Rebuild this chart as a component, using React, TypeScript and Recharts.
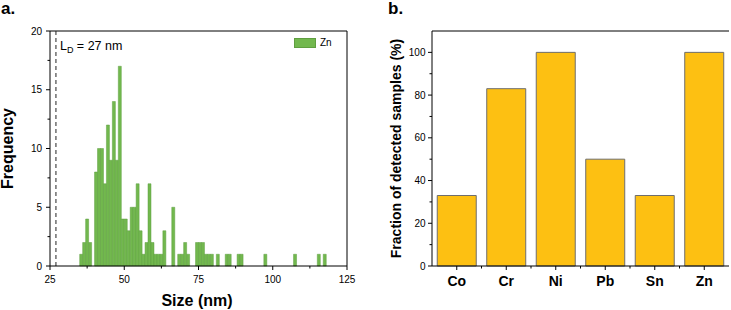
import React from 'react';
import { BarChart, Bar, XAxis, YAxis, ReferenceLine, Legend } from 'recharts';

// ---------- Panel a: size histogram (Zn) ----------
const sizeBinCenters = [
  35.5, 36.5, 37.5, 38.5, 40.5, 41.5, 42.5, 43.5, 44.5, 45.5, 46.5, 47.5, 48.5, 49.5, 50.5, 51.5,
  52.5, 53.5, 54.5, 55.5, 56.5, 57.5, 58.5, 59.5, 60.5, 61.5, 62.5, 63.5, 66.5, 68.5, 69.5, 70.5,
  71.5, 74.5, 75.5, 76.5, 77.5, 78.5, 79.5, 81.5, 84.5, 85.5, 88.5, 89.5, 97.5, 107.5, 115.5, 117.5,
];
const znFrequency = [
  1, 2, 4, 2, 8, 10, 10, 7, 12, 9, 14, 9, 17, 4, 4, 3,
  5, 5, 7, 3, 1, 2, 7, 2, 1, 1, 1, 3, 5, 1, 1, 2,
  1, 2, 2, 2, 1, 1, 1, 1, 1, 1, 1, 1, 1, 1, 1, 1,
];
const sizeTicks = [25, 37.5, 50, 62.5, 75, 87.5, 100, 112.5, 125];
const sizeMajorTicks = [25, 50, 75, 100, 125];
const freqTicks = [0, 2.5, 5, 7.5, 10, 12.5, 15, 17.5, 20];
const freqMajorTicks = [0, 5, 10, 15, 20];
const detectionLimit = 27;

// ---------- Panel b: detection fraction ----------
const metals = ['Co', 'Cr', 'Ni', 'Pb', 'Sn', 'Zn'];
const detectedFraction = [33, 83, 100, 50, 33, 100];
const fractionTicks = [0, 10, 20, 30, 40, 50, 60, 70, 80, 90, 100];
const fractionMajorTicks = [0, 20, 40, 60, 80, 100];

const histData = sizeBinCenters.map((s, i) => ({ size: s, count: znFrequency[i] }));
const fracData = metals.map((m, i) => ({ metal: m, fraction: detectedFraction[i] }));

const FONT = '"Liberation Sans", Arial, Helvetica, sans-serif';
const GREEN = '#72b84e';
const GREEN_EDGE = '#5f9e40';
const YELLOW = '#fdc012';

// Right chart layout
const R_W = 361;
const R_MARGIN = { top: 31, right: 2, left: 10, bottom: 14 };
const R_YAXIS_W = 52;
const R_PLOT_W = R_W - R_MARGIN.left - R_MARGIN.right - R_YAXIS_W;

const SizeTick = (props: any) => {
  const { x, y, payload } = props;
  const major = sizeMajorTicks.includes(payload.value);
  return (
    <g>
      <line x1={x} y1={y} x2={x} y2={y + (major ? 4 : 2.5)} stroke="#000" strokeWidth={1} />
      {major && (
        <text x={x} y={y + 17.3} textAnchor="middle" fontSize={10} fill="#000" fontFamily={FONT}>
          {payload.value}
        </text>
      )}
    </g>
  );
};

const FreqTick = (props: any) => {
  const { x, y, payload } = props;
  const major = freqMajorTicks.includes(payload.value);
  return (
    <g>
      <line x1={x - (major ? 4 : 2.5)} y1={y} x2={x} y2={y} stroke="#000" strokeWidth={1} />
      {major && (
        <text x={x - 8} y={y + 3.6} textAnchor="end" fontSize={10} fill="#000" fontFamily={FONT}>
          {payload.value}
        </text>
      )}
    </g>
  );
};

const FracTick = (props: any) => {
  const { x, y, payload } = props;
  const major = fractionMajorTicks.includes(payload.value);
  return (
    <g>
      <line x1={x - (major ? 4 : 2.5)} y1={y} x2={x} y2={y} stroke="#000" strokeWidth={1} />
      {major && (
        <text x={x - 6.5} y={y + 3.6} textAnchor="end" fontSize={10} fill="#000" fontFamily={FONT}>
          {payload.value}
        </text>
      )}
    </g>
  );
};

const MetalTick = (props: any) => {
  const { x, y, payload, index } = props;
  const band = R_PLOT_W / metals.length;
  const last = index === metals.length - 1;
  return (
    <g>
      <line x1={x} y1={y} x2={x} y2={y + 4} stroke="#000" strokeWidth={1} />
      {!last && <line x1={x + band / 2} y1={y} x2={x + band / 2} y2={y + 2.5} stroke="#000" strokeWidth={1} />}
      <text x={x} y={y + 20} textAnchor="middle" fontSize={14} fontWeight="bold" fill="#000" fontFamily={FONT}>
        {payload.value}
      </text>
    </g>
  );
};

const ZnLegend = (props: any) => {
  const item = (props.payload || [])[0];
  const color = item ? item.color : GREEN;
  const name = item ? item.value : 'Zn';
  return (
    <div style={{ display: 'flex', alignItems: 'center', fontFamily: FONT, fontSize: 10, color: '#000', lineHeight: '11px' }}>
      <div style={{ width: 22, height: 10, background: color, boxSizing: 'border-box', border: `0.5px solid ${GREEN_EDGE}` }} />
      <span style={{ marginLeft: 4 }}>{name}</span>
    </div>
  );
};

export default function App() {
  return (
    <div style={{ position: 'absolute', left: 0, top: 0, width: 731, height: 310, background: '#fff', fontFamily: FONT }}>
      {/* Panel a */}
      <div style={{ position: 'absolute', left: 0, top: 0 }}>
        <BarChart
          width={360}
          height={310}
          data={histData}
          margin={{ top: 31, right: 13, left: 10, bottom: 14 }}
          barCategoryGap={0}
          barGap={0}
        >
          <XAxis
            dataKey="size"
            type="number"
            domain={[25, 125]}
            ticks={sizeTicks}
            interval={0}
            allowDecimals
            height={30}
            tickSize={0}
            tickMargin={0}
            tickLine={false}
            axisLine={{ stroke: '#000', strokeWidth: 1 }}
            tick={<SizeTick />}
            label={{
              content: (p: any) => {
                const vb = p.viewBox || { x: 50, y: 266, width: 297 };
                return (
                  <text x={vb.x + vb.width / 2 - 1.5} y={vb.y + 40} textAnchor="middle" fontSize={16} fontWeight="bold" fill="#000" fontFamily={FONT}>
                    Size (nm)
                  </text>
                );
              },
            }}
          />
          <YAxis
            type="number"
            domain={[0, 20]}
            ticks={freqTicks}
            interval={0}
            width={40}
            tickSize={0}
            tickMargin={0}
            tickLine={false}
            axisLine={{ stroke: '#000', strokeWidth: 1 }}
            tick={<FreqTick />}
            label={{
              content: (p: any) => {
                const vb = p.viewBox || { x: 10, y: 31, height: 235 };
                const cx = vb.x + 3;
                const cy = vb.y + vb.height / 2;
                return (
                  <text x={cx} y={cy} transform={`rotate(-90, ${cx}, ${cy})`} textAnchor="middle" fontSize={16} fontWeight="bold" fill="#000" fontFamily={FONT}>
                    Frequency
                  </text>
                );
              },
            }}
          />
          <ReferenceLine y={20} stroke="#000" strokeWidth={1} />
          <ReferenceLine x={125} stroke="#000" strokeWidth={1} />
          <Bar dataKey="count" name="Zn" fill={GREEN} stroke={GREEN_EDGE} strokeWidth={0.5} isAnimationActive={false} />
          <ReferenceLine
            x={detectionLimit}
            stroke="#222"
            strokeWidth={1}
            strokeDasharray="4 3"
            label={{
              content: (p: any) => {
                const vb = p.viewBox || { x: 56, y: 31 };
                return (
                  <text x={vb.x + 4} y={vb.y + 19} fontSize={12.5} fill="#000" fontFamily={FONT}>
                    <tspan>L</tspan>
                    <tspan dy={3} fontSize={9}>D</tspan>
                    <tspan dy={-3}> = 27 nm</tspan>
                  </text>
                );
              },
            }}
          />
          <Legend
            layout="vertical"
            align="center"
            verticalAlign="middle"
            wrapperStyle={{ top: 37, left: 294, width: 50, height: 12 }}
            content={<ZnLegend />}
          />
        </BarChart>
      </div>

      {/* Panel b */}
      <div style={{ position: 'absolute', left: 370, top: 0 }}>
        <BarChart width={R_W} height={310} data={fracData} margin={R_MARGIN} barCategoryGap="10.6%">
          <XAxis
            dataKey="metal"
            type="category"
            height={30}
            interval={0}
            tickSize={0}
            tickMargin={0}
            tickLine={false}
            axisLine={{ stroke: '#000', strokeWidth: 1 }}
            tick={<MetalTick />}
          />
          <YAxis
            yAxisId="left"
            type="number"
            domain={[0, 110]}
            ticks={fractionTicks}
            interval={0}
            width={R_YAXIS_W}
            tickSize={0}
            tickMargin={0}
            tickLine={false}
            axisLine={{ stroke: '#000', strokeWidth: 1 }}
            tick={<FracTick />}
            label={{
              content: (p: any) => {
                const vb = p.viewBox || { x: 10, y: 31, height: 235 };
                const cx = vb.x + 20.5;
                const cy = vb.y + vb.height / 2;
                return (
                  <text x={cx} y={cy} transform={`rotate(-90, ${cx}, ${cy})`} textAnchor="middle" fontSize={14} fontWeight="bold" fill="#000" fontFamily={FONT}>
                    Fraction of detected samples (%)
                  </text>
                );
              },
            }}
          />
          <YAxis
            yAxisId="right"
            orientation="right"
            type="number"
            domain={[0, 110]}
            width={0}
            tick={false}
            tickLine={false}
            axisLine={{ stroke: '#000', strokeWidth: 1 }}
          />
          <ReferenceLine yAxisId="left" y={110} stroke="#000" strokeWidth={1} />
          <Bar yAxisId="left" dataKey="fraction" fill={YELLOW} stroke="#6e6e6e" strokeWidth={1} isAnimationActive={false} />
        </BarChart>
      </div>

      <svg width={731} height={22} style={{ position: 'absolute', left: 0, top: 0, pointerEvents: 'none' }}>
        <text x={1} y={13.5} fontSize={17} fontWeight="bold" fill="#000" fontFamily={FONT}>a.</text>
        <text x={388} y={14} fontSize={17} fontWeight="bold" fill="#000" fontFamily={FONT}>b.</text>
      </svg>
    </div>
  );
}
